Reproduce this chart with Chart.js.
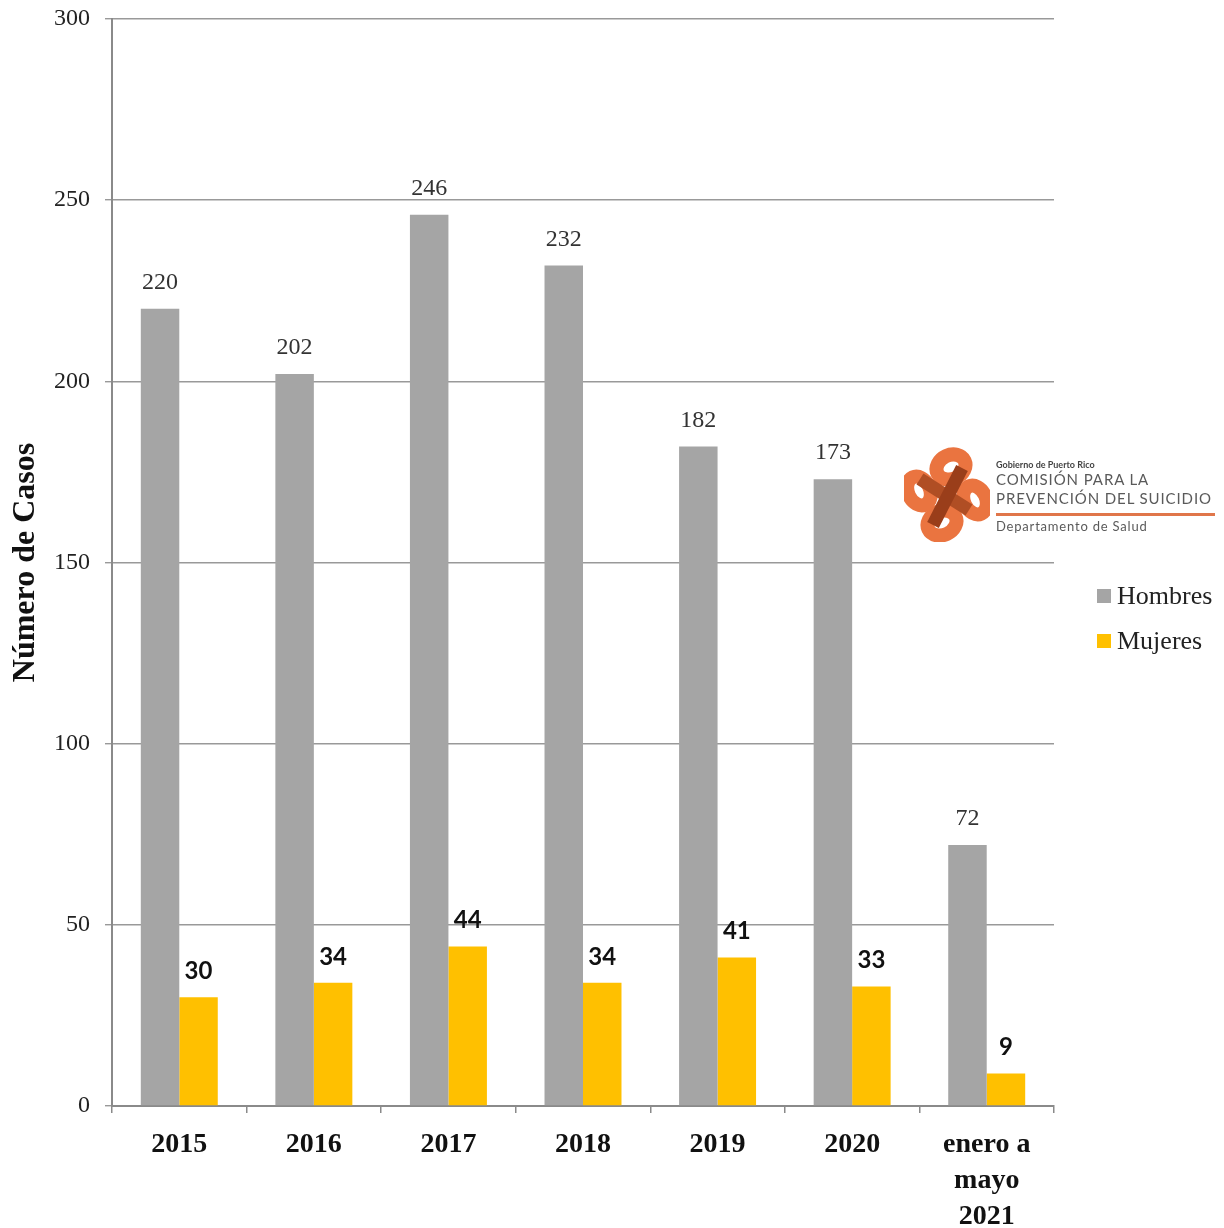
<!DOCTYPE html>
<html>
<head>
<meta charset="utf-8">
<script src="https://cdn.jsdelivr.net/npm/chart.js@4.4.1/dist/chart.umd.min.js"></script>
<style>
  html, body { margin: 0; padding: 0; background: #fff; }
  #wrap { position: relative; width: 1224px; height: 1228px; }
  #c { position: absolute; left: 0; top: 0; }
  .legend { position: absolute; left: 1097px; font-family: "Liberation Serif", serif; font-size: 26px; color: #222; }
  .legend span.box { display: inline-block; width: 14px; height: 14px; margin-right: 6px; vertical-align: 1px; }
  #logo { position: absolute; left: 904px; top: 446px; width: 320px; height: 96px; }
  .lt { position: absolute; left: 92px; font-family: "Lato", "DejaVu Sans", sans-serif; color: #5a5a5a; white-space: nowrap; }
</style>
</head>
<body>
<div id="wrap">
  <canvas id="c" width="1224" height="1228"></canvas>
  <div id="logo">
    <svg width="86" height="96" viewBox="-43 -48 86 96" style="position:absolute;left:0;top:0">
      <g fill="none" stroke-width="14">
        <ellipse cx="4" cy="-27" rx="15" ry="12" stroke="#ea7440" transform="rotate(-25 4 -27)"/>
        <ellipse cx="28" cy="6" rx="11" ry="15" stroke="#ea7440" transform="rotate(-25 28 6)"/>
        <ellipse cx="-5" cy="29" rx="15" ry="12" stroke="#ea7440" transform="rotate(-25 -5 29)"/>
        <ellipse cx="-28" cy="-3" rx="11" ry="15" stroke="#ea7440" transform="rotate(-25 -28 -3)"/>
        <line x1="-27" y1="-15" x2="22" y2="16" stroke="#b04e24" stroke-width="13"/>
        <line x1="15" y1="-26" x2="-14" y2="31" stroke="#9a3e1a" stroke-width="13"/>
      </g>
    </svg>
    <div class="lt" style="top:13px;font-size:9px;font-weight:bold;color:#444;">Gobierno de Puerto Rico</div>
    <div class="lt" style="top:24px;font-size:15px;letter-spacing:0.9px;">COMISIÓN PARA LA</div>
    <div class="lt" style="top:43px;font-size:15px;letter-spacing:0.9px;">PREVENCIÓN DEL SUICIDIO</div>
    <div style="position:absolute;left:92px;top:67px;width:219px;height:3px;background:#e0764a;"></div>
    <div class="lt" style="top:72px;font-size:13px;letter-spacing:0.8px;">Departamento de Salud</div>
  </div>
  <div class="legend" style="top:581px;"><span class="box" style="background:#a5a5a5"></span>Hombres</div>
  <div class="legend" style="top:626px;"><span class="box" style="background:#ffc000"></span>Mujeres</div>
</div>
<script>
const categories = ["2015", "2016", "2017", "2018", "2019", "2020", ["enero a", "mayo", "2021"]];
const hombres = [220, 202, 246, 232, 182, 173, 72];
const mujeres = [30, 34, 44, 34, 41, 33, 9];
const yTicks = [0, 50, 100, 150, 200, 250, 300];
const seriesNames = ["Hombres", "Mujeres"];

const labelPlugin = {
  id: 'barLabels',
  afterDatasetsDraw(chart) {
    const ctx = chart.ctx;
    chart.data.datasets.forEach((ds, di) => {
      const meta = chart.getDatasetMeta(di);
      meta.data.forEach((bar, i) => {
        ctx.save();
        ctx.textAlign = 'center';
        ctx.textBaseline = 'middle';
        if (di === 0) {
          ctx.font = '24px "Liberation Serif", serif';
          ctx.fillStyle = '#333';
        } else {
          ctx.font = 'bold 24px "Lato", sans-serif';
          ctx.fillStyle = '#111';
        }
        ctx.fillText(String(ds.data[i]), bar.x, bar.y - 26);
        ctx.restore();
      });
    });
  }
};

new Chart(document.getElementById('c'), {
  type: 'bar',
  data: {
    labels: categories,
    datasets: [
      { label: seriesNames[0], data: hombres, backgroundColor: '#a5a5a5', categoryPercentage: 0.572, barPercentage: 1.0 },
      { label: seriesNames[1], data: mujeres, backgroundColor: '#ffc000', categoryPercentage: 0.572, barPercentage: 1.0 }
    ]
  },
  options: {
    responsive: false,
    animation: false,
    devicePixelRatio: 1,
    layout: { padding: { top: 19, right: 170, bottom: 0, left: 0 } },
    plugins: { legend: { display: false }, tooltip: { enabled: false } },
    scales: {
      x: {
        grid: { offset: true, drawOnChartArea: false, color: '#8a8a8a', lineWidth: 1.5, tickLength: 7 },
        border: { color: '#8a8a8a', width: 2 },
        ticks: { color: '#111', font: { family: '"Liberation Serif", serif', size: 28, weight: 'bold', lineHeight: 36/28 }, padding: 14, maxRotation: 0, autoSkip: false },
        afterFit(s) { s.height = 122; s.paddingLeft = 0; s.paddingRight = 0; }
      },
      y: {
        min: 0, max: 300,
        afterBuildTicks(s) { s.ticks = yTicks.map(v => ({ value: v })); },
        grid: { color: '#999', lineWidth: 1.4, tickLength: 7 },
        border: { color: '#8a8a8a', width: 2 },
        ticks: { color: '#222', font: { family: '"Liberation Serif", serif', size: 24 }, padding: 15 },
        title: { display: true, text: 'Número de Casos', color: '#111', font: { family: '"Liberation Serif", serif', size: 32, weight: 'bold' }, padding: { top: 7, bottom: 0 } },
        afterFit(s) { s.width = 112; s.paddingTop = 0; s.paddingBottom = 0; }
      }
    }
  },
  plugins: [labelPlugin]
});
</script>
</body>
</html>
